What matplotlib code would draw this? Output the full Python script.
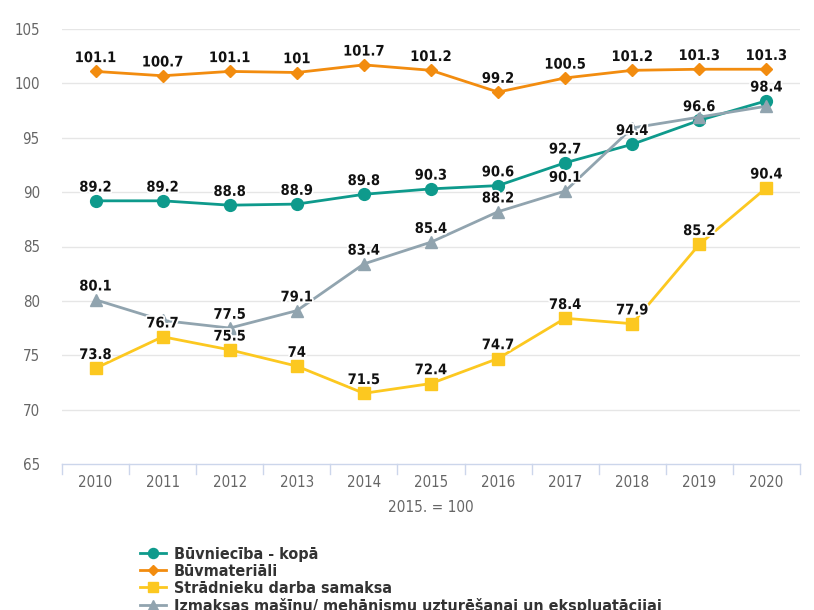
import matplotlib
matplotlib.use("Agg")
import matplotlib.pyplot as plt
import matplotlib.patheffects as pe
from matplotlib.lines import Line2D
from matplotlib.transforms import blended_transform_factory

years = ["2010", "2011", "2012", "2013", "2014", "2015", "2016", "2017", "2018", "2019", "2020"]
buvnieciba = [89.2, 89.2, 88.8, 88.9, 89.8, 90.3, 90.6, 92.7, 94.4, 96.6, 98.4]
buvmateriali = [101.1, 100.7, 101.1, 101.0, 101.7, 101.2, 99.2, 100.5, 101.2, 101.3, 101.3]
stradnieki = [73.8, 76.7, 75.5, 74.0, 71.5, 72.4, 74.7, 78.4, 77.9, 85.2, 90.4]
masinas = [80.1, 78.2, 77.5, 79.1, 83.4, 85.4, 88.2, 90.1, 95.9, 96.9, 97.9]
series_names = ["Būvniecība - kopā", "Būvmateriāli", "Strādnieku darba samaksa",
                "Izmaksas mašīnu/ mehānismu uzturēšanai un ekspluatācijai"]
# labels hidden in the reference due to overlap (gray series)
masinas_hidden = ["2011", "2018", "2019", "2020"]
yticks = [65, 70, 75, 80, 85, 90, 95, 100, 105]
x_title = "2015. = 100"

plt.rcParams["font.family"] = ["DejaVu Sans Condensed", "DejaVu Sans"]
plt.rcParams["font.stretch"] = "condensed"

W, H = 814, 610
fig = plt.figure(figsize=(W / 100, H / 100), dpi=100)
left, right, top, bottom = 62, 800, 29, 464
ax = fig.add_axes([left / W, 1 - bottom / H, (right - left) / W, (bottom - top) / H])

x = list(range(len(years)))
styles = [
    (buvnieciba, "#0e9a8c", "o", 8.5, []),
    (buvmateriali, "#f28c0f", "D", 6.5, []),
    (stradnieki, "#fcc820", "s", 8.0, []),
    (masinas, "#91a4af", "^", 8.5, masinas_hidden),
]
handles = []
for i, (vals, col, mk, ms, hidden) in enumerate(styles):
    ax.plot(x, vals, color=col, lw=2.0, marker=mk, ms=ms, mec=col, mfc=col, zorder=3 + i,
            clip_on=False)
    handles.append(Line2D([], [], color=col, lw=2.0, marker=mk, ms=ms * 0.85, mec=col, mfc=col))
    for xi, yr, v in zip(x, years, vals):
        if yr in hidden:
            continue
        txt = ("%g" % v)
        ax.annotate(txt, (xi, v), xytext=(0, 6.7), textcoords="offset points",
                    ha="center", va="baseline", fontsize=10.5, fontweight="bold",
                    color="#111111", zorder=10,
                    path_effects=[pe.withStroke(linewidth=2.5, foreground="white")])

ax.set_xlim(-0.5, len(years) - 0.5)
ax.set_ylim(65, 105)
ax.set_yticks(yticks)
ax.set_xticks(x)
ax.set_xticklabels(years)
ax.tick_params(axis="y", length=0, labelsize=10.8, labelcolor="#666666", pad=16)
ax.tick_params(axis="x", length=0, labelsize=10.8, labelcolor="#666666", pad=8)
for yv in yticks[1:]:
    ax.axhline(yv, color="#e6e6e6", lw=1.0, zorder=0)
for sp in ["top", "right", "left"]:
    ax.spines[sp].set_visible(False)
ax.spines["bottom"].set_color("#ccd6eb")
ax.spines["bottom"].set_linewidth(1.0)
tr = blended_transform_factory(ax.transData, ax.transAxes)
for b in range(len(years) + 1):
    ax.plot([b - 0.5, b - 0.5], [0, -10 / (bottom - top)], color="#ccd6eb", lw=1.0,
            transform=tr, clip_on=False)

fig.text((left + right) / 2 / W, 1 - 508 / H, x_title, ha="center", va="center",
         fontsize=11, color="#666666")

fig.legend(handles, series_names, loc="upper left", bbox_to_anchor=(132 / W, 1 - 539 / H),
           frameon=False, handlelength=1.6, handletextpad=0.5,
           labelspacing=0.12, borderpad=0, prop={"weight": "bold", "size": 11.5},
           labelcolor="#333333")

fig.savefig("out.png", dpi=100)
